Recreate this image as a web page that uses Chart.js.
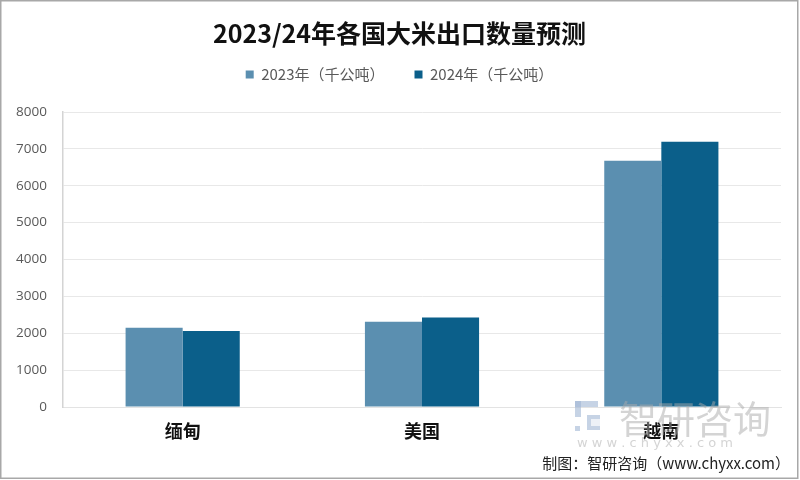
<!DOCTYPE html>
<html>
<head>
<meta charset="utf-8">
<script src="https://cdn.jsdelivr.net/npm/chart.js@4.4.0/dist/chart.umd.min.js"></script>
<style>
  html, body { margin: 0; padding: 0; background: #ffffff; }
  #wrap { width: 800px; height: 480px; position: relative; }
</style>
</head>
<body>
<div id="wrap"><canvas id="c" width="800" height="480"></canvas></div>
<script>
const categories = ['缅甸', '美国', '越南'];
const series2023 = [2150, 2310, 6680];
const series2024 = [2060, 2430, 7190];
const seriesNames = ['2023年（千公吨）', '2024年（千公吨）'];
const yTicks = [0, 1000, 2000, 3000, 4000, 5000, 6000, 7000, 8000];
const titleText = '2023/24年各国大米出口数量预测';
const footerText = '制图：智研咨询（www.chyxx.com）';
const watermarkText = '智研咨询';
const watermarkUrl = 'w w w . c h y x x . c o m';

const CJK = '"Noto Sans CJK SC", "Noto Sans", sans-serif';

const legendSpacer = {
  id: 'legendSpacer',
  beforeLayout(chart) {
    const lg = chart.legend;
    if (lg && !lg._patched) {
      const f = lg.fit.bind(lg);
      lg.fit = function () { f(); this.height += 20; };
      lg._patched = true;
    }
  },
  afterLayout(chart) {
    const shift = 9;
    [chart.titleBlock, chart.legend].forEach(b => {
      if (b) { b.left += shift; b.right += shift; }
    });
  }
};

const decor = {
  id: 'decor',
  afterDatasetsDraw(chart) {
    const ctx = chart.ctx;
    ctx.save();
    // watermark logo
    ctx.fillStyle = 'rgba(160,182,212,0.6)';
    ctx.fillRect(575, 401, 23, 6);
    ctx.fillRect(575, 401, 6, 16);
    ctx.fillRect(587, 415, 13, 15);
    ctx.fillStyle = 'rgba(255,255,255,0.7)';
    ctx.fillRect(591, 419, 9, 7);
    ctx.fillStyle = 'rgba(160,182,212,0.6)';
    ctx.fillRect(575, 426, 5, 5);
    // watermark text
    ctx.fillStyle = 'rgba(170,170,170,0.5)';
    ctx.font = '38px ' + CJK;
    ctx.textAlign = 'left';
    ctx.textBaseline = 'middle';
    ctx.fillText(watermarkText, 619, 419);
    ctx.font = '13px "DejaVu Sans", sans-serif';
    ctx.fillText(watermarkUrl, 577, 444);
    ctx.restore();
  },
  afterDraw(chart) {
    const ctx = chart.ctx;
    ctx.save();
    ctx.fillStyle = '#222222';
    ctx.font = '15px ' + CJK;
    ctx.textAlign = 'right';
    ctx.textBaseline = 'middle';
    ctx.fillText(footerText, 790, 463);
    ctx.strokeStyle = '#a8a8a8';
    ctx.lineWidth = 1.5;
    ctx.strokeRect(0.75, 0.75, 797, 477.5);
    ctx.restore();
  }
};

new Chart(document.getElementById('c'), {
  type: 'bar',
  data: {
    labels: categories,
    datasets: [
      { label: seriesNames[0], data: series2023, backgroundColor: '#5b8fb0', borderWidth: 0 },
      { label: seriesNames[1], data: series2024, backgroundColor: '#0b5f8a', borderWidth: 0 }
    ]
  },
  options: {
    responsive: false,
    animation: false,
    devicePixelRatio: 1,
    datasets: { bar: { categoryPercentage: 0.477, barPercentage: 1.0 } },
    layout: { padding: { left: 0, right: 19, top: 0, bottom: 0 } },
    plugins: {
      title: {
        display: true,
        text: titleText,
        color: '#111111',
        font: { family: CJK, size: 25, weight: 'bold', lineHeight: 1.2 },
        padding: { top: 18, bottom: -11 }
      },
      legend: {
        display: true,
        position: 'top',
        labels: {
          boxWidth: 8,
          boxHeight: 8,
          color: '#595959',
          font: { family: CJK, size: 15 },
          padding: 30
        }
      },
      tooltip: { enabled: false }
    },
    scales: {
      x: {
        grid: { display: false, drawTicks: false },
        border: { display: true, color: '#e3e3e3' },
        ticks: {
          color: '#111111',
          font: { family: CJK, size: 18, weight: 'bold' },
          padding: 13
        },
        afterFit(scale) { scale.height = 73; }
      },
      y: {
        min: 0,
        max: 8000,
        afterBuildTicks(scale) { scale.ticks = yTicks.map(v => ({ value: v })); },
        grid: { color: '#e8e8e8', drawTicks: false },
        border: { display: true, color: '#d4d4d4', width: 1.5 },
        ticks: {
          color: '#595959',
          font: { family: '"Open Sans", "Noto Sans", sans-serif', size: 13.5 },
          padding: 16,
          callback: (v) => String(v)
        },
        afterFit(scale) { scale.width = 63; }
      }
    }
  },
  plugins: [legendSpacer, decor]
});
</script>
</body>
</html>
